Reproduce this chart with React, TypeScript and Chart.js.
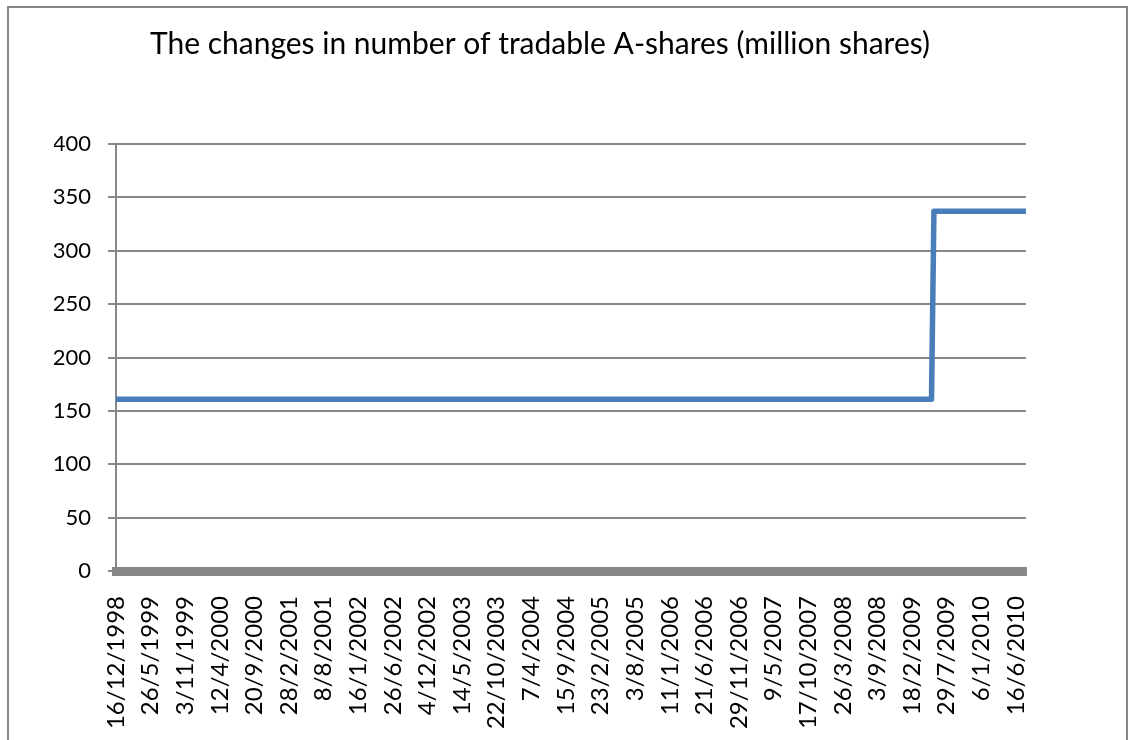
import React, { useEffect, useRef } from 'react';
import { Chart, registerables } from 'chart.js';

Chart.register(...registerables);

const titleText = 'The changes in number of tradable A-shares (million shares)';

// category tick labels (dates), evenly spaced on the axis
const tickLabels = [
  '16/12/1998', '26/5/1999', '3/11/1999', '12/4/2000', '20/9/2000', '28/2/2001',
  '8/8/2001', '16/1/2002', '26/6/2002', '4/12/2002', '14/5/2003', '22/10/2003',
  '7/4/2004', '15/9/2004', '23/2/2005', '3/8/2005', '11/1/2006', '21/6/2006',
  '29/11/2006', '9/5/2007', '17/10/2007', '26/3/2008', '3/9/2008', '18/2/2009',
  '29/7/2009', '6/1/2010', '16/6/2010',
];

// series: position along the date axis (in label-interval units) and value
const seriesPositions = [0, 23.56, 23.63, 26.29];
const seriesValues = [161, 161, 337, 337];

const axisEnd = 26.29;
const yMin = 0;
const yMax = 400;
const yStep = 50;

const FONT = 'Lato, "Open Sans", sans-serif';

export default function App() {
  const ref = useRef<HTMLCanvasElement>(null);

  useEffect(() => {
    if (!ref.current) return;
    const chart = new Chart(ref.current, {
      type: 'line',
      data: {
        datasets: [
          {
            data: seriesPositions.map((x, i) => ({ x, y: seriesValues[i] })),
            borderColor: '#4A7EBB',
            borderWidth: 5.5,
            pointRadius: 0,
            borderJoinStyle: 'round',
            tension: 0,
            fill: false,
          },
        ],
      },
      options: {
        responsive: false,
        animation: false,
        layout: { padding: { left: 54, right: 102, top: 0, bottom: 0 } },
        plugins: {
          legend: { display: false },
          tooltip: { enabled: false },
          title: {
            display: true,
            text: titleText,
            color: '#000',
            font: { family: FONT, size: 30, weight: 'normal' },
            padding: { top: 26, bottom: 82 },
          },
        },
        scales: {
          x: {
            type: 'linear',
            min: 0,
            max: axisEnd,
            afterBuildTicks: (s: any) => {
              s.ticks = tickLabels.map((_, i) => ({ value: i }));
            },
            afterFit: (s: any) => {
              s.height = 169;
            },
            grid: { display: true, drawOnChartArea: false, drawTicks: false },
            border: { display: true, color: '#878787', width: 9 },
            ticks: {
              autoSkip: false,
              maxRotation: 90,
              minRotation: 90,
              padding: 25,
              color: '#000',
              font: { family: FONT, size: 24 },
              callback: (v: any) => tickLabels[Math.round(Number(v))] ?? '',
            },
          },
          y: {
            min: yMin,
            max: yMax,
            afterFit: (s: any) => {
              s.width = 62;
            },
            ticks: {
              stepSize: yStep,
              padding: 17,
              color: '#000',
              font: { family: FONT, size: 22 },
            },
            grid: { color: '#888', lineWidth: 2, tickLength: 8, drawTicks: true },
            border: { display: true, color: '#888', width: 2 },
          },
        },
      },
    } as any);
    return () => chart.destroy();
  }, []);

  return (
    <>
      <div
        style={{
          position: 'fixed',
          left: 7,
          top: 6,
          width: 1121,
          height: 800,
          border: '2.5px solid #878787',
          boxSizing: 'border-box',
        }}
      />
      <canvas
        ref={ref}
        width={1128}
        height={740}
        style={{ position: 'fixed', left: 0, top: 0, width: 1128, height: 740 }}
      />
    </>
  );
}
